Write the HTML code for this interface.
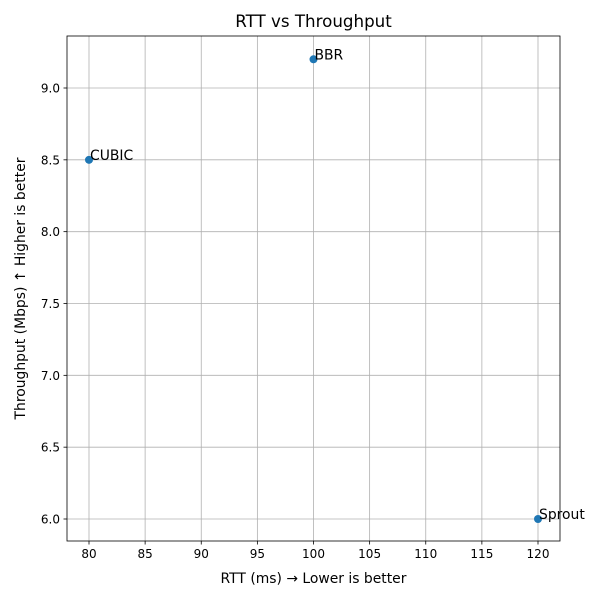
<!DOCTYPE html>
<html><head><meta charset="utf-8"><style>
body{margin:0;background:#fff;font-family:"Liberation Sans","DejaVu Sans",sans-serif;}
svg text{font-family:"DejaVu Sans","Liberation Sans",sans-serif;}
</style></head><body>
<svg id="chart" width="600" height="600"></svg>
<script>
const names=["CUBIC","BBR","Sprout"];
const rtt=[80,100,120];
const tput=[8.5,9.2,6.0];
const xTicks=[80,85,90,95,100,105,110,115,120];
const yTicks=[6.0,6.5,7.0,7.5,8.0,8.5,9.0];
const L=67,R=560,T=36,B=541;
function xs(v){return 89+(v-80)*(538-89)/40;}
function ys(v){return 519-(v-6)*(519-88)/3;}
const svg=document.getElementById('chart');
const NS='http://www.w3.org/2000/svg';
function mk(tag,attrs,txt){const e=document.createElementNS(NS,tag);for(const k in attrs)e.setAttribute(k,attrs[k]);if(txt!==undefined)e.textContent=txt;svg.appendChild(e);return e;}
xTicks.forEach(t=>{
 const x=xs(t);
 let g=mk('line',{x1:x,x2:x,y1:T,y2:B,stroke:'#b0b0b0','stroke-width':0.8});
 
 mk('line',{x1:x,x2:x,y1:B,y2:B+3.5,stroke:'#000','stroke-width':0.8});
 let l=mk('text',{x:x,y:B+17,'text-anchor':'middle','font-size':12},String(t));
 
});
yTicks.forEach(t=>{
 const y=ys(t);
 let g=mk('line',{x1:L,x2:R,y1:y,y2:y,stroke:'#b0b0b0','stroke-width':0.8});
 
 mk('line',{x1:L-3.5,x2:L,y1:y,y2:y,stroke:'#000','stroke-width':0.8});
 let l=mk('text',{x:L-7,y:y+4.5,'text-anchor':'end','font-size':12},t.toFixed(1));
 
});
let fr=mk('rect',{x:L,y:T,width:R-L,height:B-T,fill:'none',stroke:'#000','stroke-width':0.8});

names.forEach((n,i)=>{
 const x=xs(rtt[i]),y=ys(tput[i]);
 let c=mk('circle',{cx:x,cy:y,r:4,fill:'#1f77b4'});
 
 let t=mk('text',{x:x+1,y:y,'font-size':13.9},n);
 
});
let ti=mk('text',{x:(L+R)/2,y:27,'text-anchor':'middle','font-size':16.7},'RTT vs Throughput');

let xt=mk('text',{x:(L+R)/2,y:583,'text-anchor':'middle','font-size':13.9},'RTT (ms) → Lower is better');

let yt=mk('text',{x:25,y:(T+B)/2,'text-anchor':'middle','font-size':13.9,transform:'rotate(-90 25 '+((T+B)/2)+')'},'Throughput (Mbps) ↑ Higher is better');

</script>
</body></html>
